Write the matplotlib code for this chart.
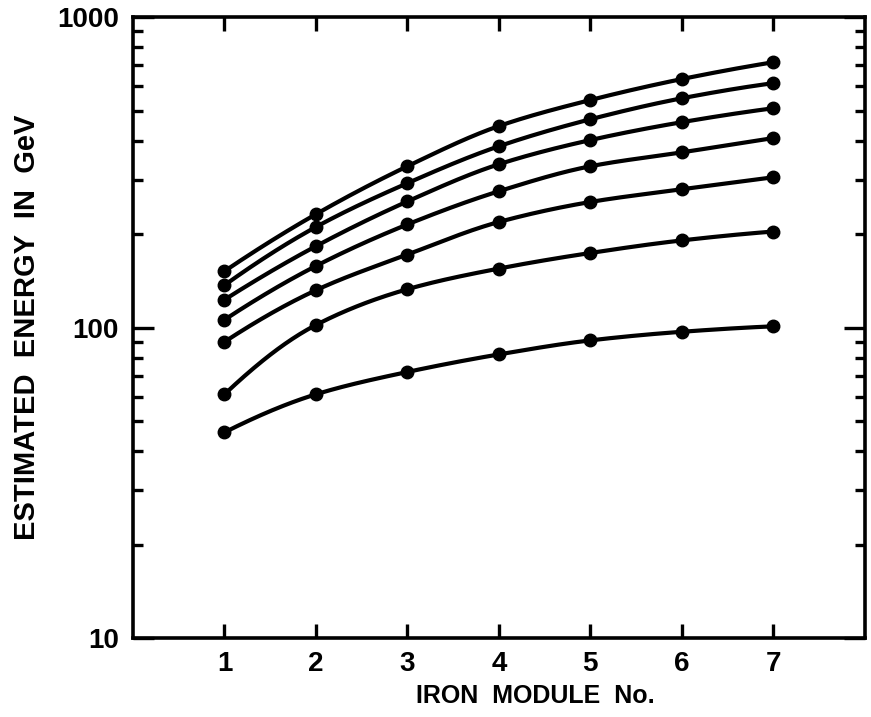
#!/usr/bin/env python3
"""Estimated energy vs iron module number, log scale, seven curves."""
import numpy as np
import matplotlib
matplotlib.use("Agg")
import matplotlib.pyplot as plt
from matplotlib.ticker import FixedLocator, NullFormatter

plt.rcParams["font.family"] = ["Liberation Sans", "DejaVu Sans"]

# Iron module number
modules = [1, 2, 3, 4, 5, 6, 7]

# Estimated energy (GeV), top curve first
energy_a = [152, 232, 331, 446, 541, 632, 716]
energy_b = [137, 211, 292, 384, 469, 548, 613]
energy_c = [123, 183, 255, 336, 402, 459, 509]
energy_d = [106, 158, 215, 275, 331, 367, 408]
energy_e = [90, 132, 172, 219, 254, 279, 305]
energy_f = [61, 102, 133, 155, 174, 191, 204]
energy_g = [46, 61, 72, 82, 91, 97, 101]

series = [energy_a, energy_b, energy_c, energy_d, energy_e, energy_f, energy_g]

y_major = [10, 100, 1000]
y_major_labels = ["10", "100", "1000"]


def pchip(x, y, xs):
    """Monotone cubic curve through the points (used only for drawing)."""
    x = np.asarray(x, float)
    y = np.asarray(y, float)
    h = np.diff(x)
    d = np.diff(y) / h
    m = np.zeros_like(y)
    for k in range(1, len(x) - 1):
        if d[k - 1] * d[k] > 0:
            w1 = 2 * h[k] + h[k - 1]
            w2 = h[k] + 2 * h[k - 1]
            m[k] = (w1 + w2) / (w1 / d[k - 1] + w2 / d[k])
    m[0] = ((2 * h[0] + h[1]) * d[0] - h[0] * d[1]) / (h[0] + h[1])
    m[-1] = ((2 * h[-1] + h[-2]) * d[-1] - h[-1] * d[-2]) / (h[-1] + h[-2])
    out = np.empty_like(xs)
    idx = np.clip(np.searchsorted(x, xs) - 1, 0, len(x) - 2)
    for i, xv in enumerate(xs):
        k = idx[i]
        t = (xv - x[k]) / h[k]
        h00 = 2 * t**3 - 3 * t**2 + 1
        h10 = t**3 - 2 * t**2 + t
        h01 = -2 * t**3 + 3 * t**2
        h11 = t**3 - t**2
        out[i] = h00 * y[k] + h10 * h[k] * m[k] + h01 * y[k + 1] + h11 * h[k] * m[k + 1]
    return out


fig = plt.figure(figsize=(8.71, 7.17), dpi=100)
ax = fig.add_axes([0.1527, 0.110, 0.840, 0.866])

xs = np.linspace(modules[0], modules[-1], 300)
for vals in series:
    ys = 10 ** pchip(modules, np.log10(vals), xs)
    ax.plot(xs, ys, color="black", lw=3.0, solid_capstyle="round")
    ax.plot(modules, vals, "o", color="black", ms=9)

ax.set_yscale("log")
ax.set_xlim(0, 8)
ax.set_ylim(10, 1000)

for sp in ax.spines.values():
    sp.set_linewidth(2.6)

ax.xaxis.set_major_locator(FixedLocator(modules))
ax.set_xticklabels([str(m) for m in modules])
ax.yaxis.set_major_locator(FixedLocator(y_major))
ax.set_yticklabels(y_major_labels)
minor = [v * d for v in (10, 100) for d in range(2, 10)]
ax.yaxis.set_minor_locator(FixedLocator(minor))
ax.yaxis.set_minor_formatter(NullFormatter())
ax.xaxis.set_minor_locator(FixedLocator([]))

ax.tick_params(axis="x", which="major", direction="in", length=10, width=2.4,
               top=True, pad=9, labelsize=20)
ax.tick_params(axis="y", which="major", direction="in", length=15, width=2.4,
               right=True, pad=10, labelsize=20)
ax.tick_params(axis="y", which="minor", direction="in", length=7.5, width=2.4, right=True)
for lab in ax.get_xticklabels() + ax.get_yticklabels():
    lab.set_fontweight("bold")

ax.set_xlabel("IRON  MODULE  No.", fontsize=18, fontweight="bold")
ax.xaxis.set_label_coords(0.55, -0.093)
ax.xaxis.label.set_va("center")
ax.set_ylabel("ESTIMATED  ENERGY  IN  GeV", fontsize=21, fontweight="bold")
ax.yaxis.set_label_coords(-0.145, 0.5)
ax.yaxis.label.set_va("center")

fig.savefig("out.png", dpi=100)
